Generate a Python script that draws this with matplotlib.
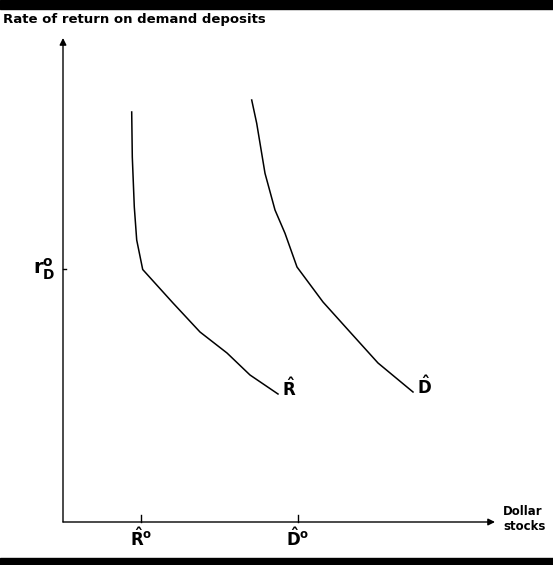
import matplotlib
matplotlib.use("Agg")
import matplotlib.pyplot as plt
from matplotlib.patches import Rectangle

plt.rcParams['mathtext.fontset'] = 'dejavusans'

# Schematic data (arbitrary units)
r_x = [6.87, 6.93, 7.13, 7.37, 7.97, 11.0, 13.7, 16.4, 18.7, 21.5]
r_y = [41.0, 36.5, 31.5, 28.2, 25.25, 21.9, 19.0, 16.9, 14.7, 12.8]
d_x = [18.87, 19.37, 20.2, 21.2, 22.2, 23.4, 26.0, 28.7, 31.5, 35.0]
d_y = [42.2, 39.87, 34.87, 31.2, 28.87, 25.5, 22.0, 19.0, 15.9, 13.0]
x_ticks = [7.8, 23.5]
x_tick_labels = [r'$\mathbf{\hat{R}^{o}}$', r'$\mathbf{\hat{D}^{o}}$']
y_level = 25.3
y_level_label = r'$\mathbf{r_{D}^{o}}$'
curve_labels = [r'$\mathbf{\hat{R}}$', r'$\mathbf{\hat{D}}$']
x_axis_end = 43.2
y_axis_end = 48.4

fig = plt.figure(figsize=(5.53, 5.65), dpi=100)
ax = fig.add_axes([0, 0, 1, 1])
ax.set_xlim(-6.3, 49.0)
ax.set_ylim(-4.3, 52.2)
ax.axis('off')

# decorative bars
fig.patches.append(Rectangle((0, 1 - 9/565), 1, 9/565, transform=fig.transFigure,
                             color='black', zorder=0))
fig.patches.append(Rectangle((0, 0), 1, 7/565, transform=fig.transFigure,
                             color='black', zorder=0))

# axes with arrows
ax.annotate('', xy=(x_axis_end, 0), xytext=(0, 0),
            arrowprops=dict(arrowstyle='-|>', mutation_scale=10, lw=1.0, color='black',
                            shrinkA=0, shrinkB=0))
ax.annotate('', xy=(0, y_axis_end), xytext=(0, 0),
            arrowprops=dict(arrowstyle='-|>', mutation_scale=10, lw=1.0, color='black',
                            shrinkA=0, shrinkB=0))

# curves
ax.plot(r_x, r_y, color='black', lw=1.1)
ax.plot(d_x, d_y, color='black', lw=1.1)

# curve labels
ax.text(r_x[-1] + 0.4, r_y[-1] + 0.5, curve_labels[0], fontsize=12, ha='left', va='center')
ax.text(d_x[-1] + 0.4, d_y[-1] + 0.5, curve_labels[1], fontsize=12, ha='left', va='center')

# x ticks
for xt, lab in zip(x_ticks, x_tick_labels):
    ax.plot([xt, xt], [0, 0.7], color='black', lw=1.0)
    ax.text(xt, -0.5, lab, fontsize=12, ha='center', va='top')

# y level label
ax.plot([0, 0.3], [y_level, y_level], color='black', lw=1.0)
ax.text(-0.8, y_level, y_level_label, fontsize=14, ha='right', va='center')

# axis titles
fig.text(0.006, 1 - 19/565, 'Rate of return on demand deposits', fontsize=9.5,
         fontweight='bold', ha='left', va='center')
ax.text(x_axis_end + 0.8, 0.3, 'Dollar\nstocks', fontsize=8.5, fontweight='bold',
        ha='left', va='center', linespacing=1.15)

fig.savefig('out.png', dpi=100)
